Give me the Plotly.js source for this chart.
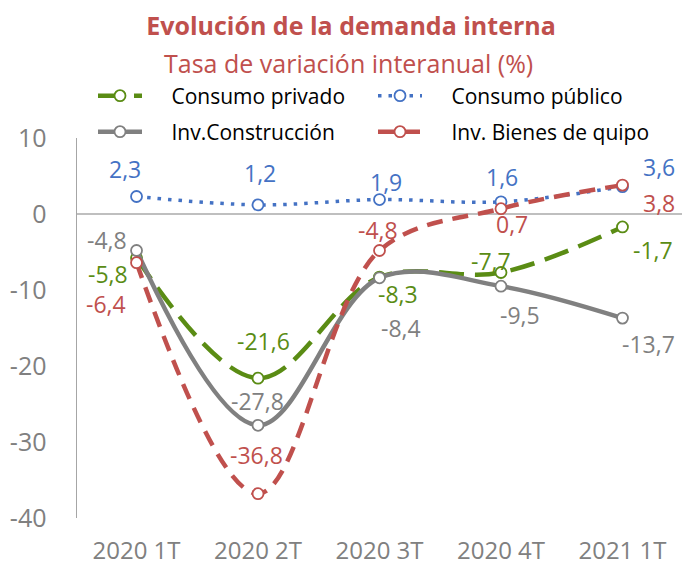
<!DOCTYPE html>
<html>
<head>
<meta charset="utf-8">
<script src="https://cdn.plot.ly/plotly-3.0.1.min.js"></script>
<style>html,body{margin:0;padding:0;background:#fff;}#chart{width:682px;height:568px;}</style>
</head>
<body>
<div id="chart"></div>
<script>
// ---- data ----
const categories = ['2020 1T', '2020 2T', '2020 3T', '2020 4T', '2021 1T'];
const seriesNames = ['Consumo privado', 'Consumo público', 'Inv.Construcción', 'Inv. Bienes de quipo'];
const consumoPrivado = [-5.8, -21.6, -8.3, -7.7, -1.7];
const consumoPublico = [2.3, 1.2, 1.9, 1.6, 3.6];
const invConstruccion = [-4.8, -27.8, -8.4, -9.5, -13.7];
const invBienesEquipo = [-6.4, -36.8, -4.8, 0.7, 3.8];
const yTicks = [-40, -30, -20, -10, 0, 10];

// ---- styles ----
const colors = ['#5A8C14', '#4472C4', '#808080', '#C0504D'];
const dashes = ['25px,11px', '3.5px,7px', 'solid', '16px,10px'];
const widths = [4.5, 3.5, 4.5, 4.5];
const legendIds = ['legend', 'legend', 'legend2', 'legend2'];
// label offsets in pixels (dx right, dy down) per series per point
const labelOffsets = [
  [[-29, 16], [5, -37], [18, 17], [-10, -12], [31, 23]],
  [[-12, -28], [2, -32], [6, -18], [1, -25], [37, -20]],
  [[-30, -10], [-1, -24], [21, 50], [19, 29], [26, 26]],
  [[-31, 41], [-2, -39], [-2, -20], [11, 15], [37, 18]]
];

const allSeries = [consumoPrivado, consumoPublico, invConstruccion, invBienesEquipo];
const FONT = '"Open Sans", Lato, sans-serif';
const PAD = '\u2003\u2009';

const traces = allSeries.map((vals, i) => ({
  type: 'scatter',
  mode: 'lines+markers',
  name: PAD + seriesNames[i],
  legend: legendIds[i],
  x: categories,
  y: vals,
  line: {color: colors[i], width: widths[i], dash: dashes[i], shape: 'spline', smoothing: 1},
  marker: {symbol: 'circle', size: 11, color: '#ffffff', line: {color: colors[i], width: 1.8}},
  hoverinfo: 'skip'
}));

const fmt = v => v.toFixed(1).replace('.', ',');
const annotations = [];
allSeries.forEach((vals, i) => {
  vals.forEach((v, j) => {
    annotations.push({
      xref: 'x', yref: 'y', x: categories[j], y: v,
      text: fmt(v), showarrow: false,
      xanchor: 'center', yanchor: 'middle',
      xshift: labelOffsets[i][j][0], yshift: -labelOffsets[i][j][1],
      font: {family: FONT, size: 23, color: colors[i]}
    });
  });
});
annotations.push({
  xref: 'paper', yref: 'paper', x: (348 - 77) / 605, y: (518 - 63) / 380,
  text: 'Tasa de variación interanual (%)', showarrow: false,
  xanchor: 'center', yanchor: 'middle',
  font: {family: FONT, size: 25, color: '#C0504D'}
});

const legendBase = {
  orientation: 'h', xanchor: 'left', yanchor: 'middle',
  x: (93 - 77) / 605,
  entrywidth: 221, entrywidthmode: 'pixels',
  font: {family: FONT, size: 21, color: '#000000'},
  bgcolor: 'rgba(0,0,0,0)', traceorder: 'normal', itemwidth: 44, borderwidth: 0
};

const layout = {
  width: 682, height: 568,
  margin: {l: 77, r: 0, t: 138, b: 50},
  paper_bgcolor: '#ffffff', plot_bgcolor: '#ffffff',
  showlegend: true,
  title: {
    text: '<b>Evolución de la demanda interna</b>',
    x: 351 / 682, xref: 'container', xanchor: 'center',
    y: 1 - 26 / 568, yref: 'container', yanchor: 'middle',
    font: {family: FONT, size: 25, color: '#C0504D'}
  },
  legend: Object.assign({}, legendBase, {y: (518 - 96) / 380}),
  legend2: Object.assign({}, legendBase, {y: (518 - 132) / 380}),
  xaxis: {
    type: 'category', range: [-0.49, 4.49],
    showline: false, showgrid: false, zeroline: false, ticks: '',
    tickfont: {family: FONT, size: 24, color: '#808080'},
    ticklabelstandoff: 16, fixedrange: true
  },
  yaxis: {
    range: [-40, 10], tickvals: yTicks, ticktext: yTicks.map(String),
    showline: true, linecolor: '#A6A6A6', linewidth: 1.5,
    showgrid: false, zeroline: true, zerolinecolor: '#BFBFBF', zerolinewidth: 1.5,
    ticks: '', tickfont: {family: FONT, size: 25, color: '#808080'},
    ticklabelstandoff: 24, fixedrange: true
  },
  annotations: annotations
};

Plotly.newPlot('chart', traces, layout, {displayModeBar: false, staticPlot: true});
</script>
</body>
</html>
